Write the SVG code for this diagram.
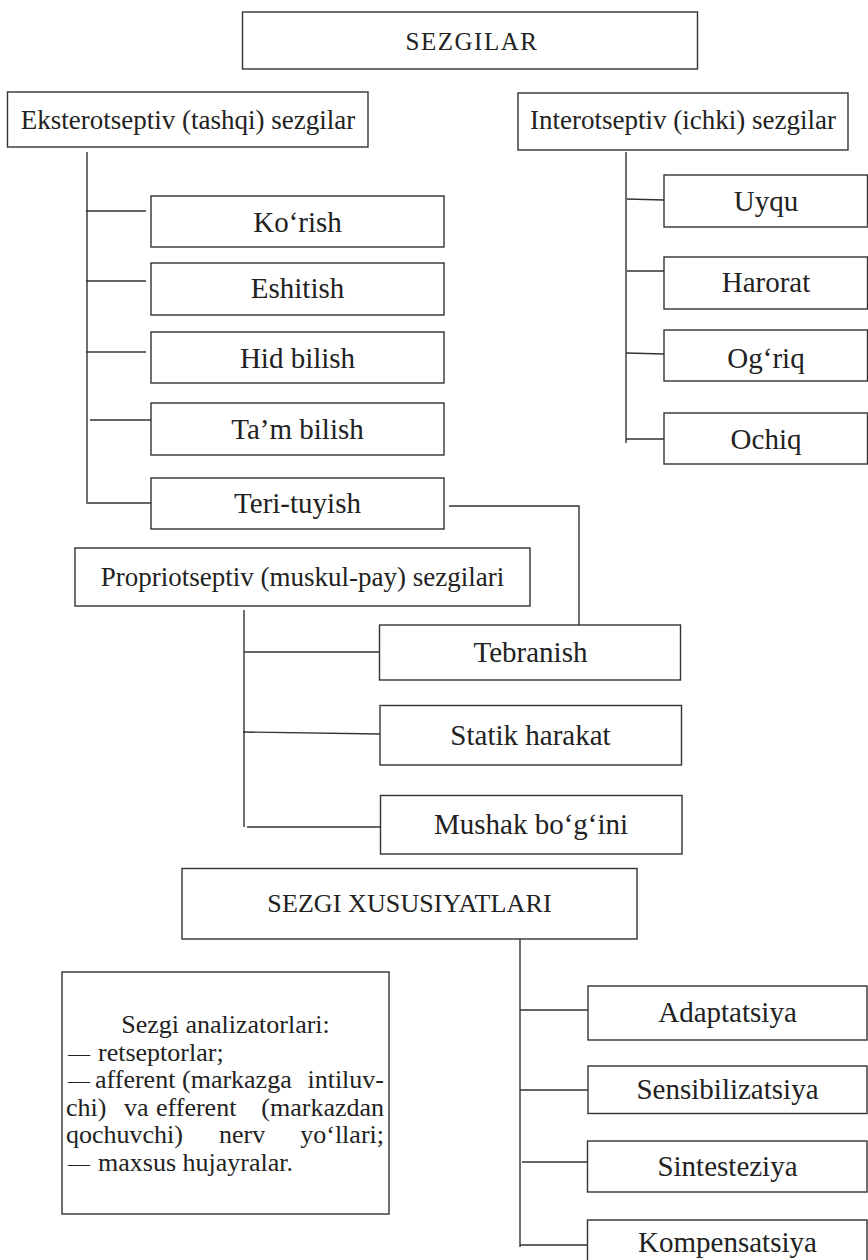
<svg xmlns="http://www.w3.org/2000/svg" width="868" height="1260" viewBox="0 0 868 1260">
<style>
.b{fill:#fff;stroke:#333;stroke-width:1.4}
.c{fill:none;stroke:#333;stroke-width:1.4}
.t{font-family:"Liberation Serif","Times New Roman",serif;fill:#222;text-anchor:middle}
.s29{font-size:29px}
.s27{font-size:27px}
.s26{font-size:26px}
.s25{font-size:25px}
.p{font-family:"Liberation Serif","Times New Roman",serif;fill:#222;font-size:26px}
.d{font-family:"Liberation Serif","Times New Roman",serif;fill:#222;font-size:22px}
.e{text-anchor:end}
</style>
<rect width="868" height="1260" fill="#fff"/>
<g id="connectors">
<path class="c" d="M87 152V504"/>
<path class="c" d="M86 211H146"/>
<path class="c" d="M86 281H146"/>
<path class="c" d="M86 352H146"/>
<path class="c" d="M90 420H151"/>
<path class="c" d="M88 503H151"/>
<path class="c" d="M626 152V443"/>
<path class="c" d="M627 199L664 200"/>
<path class="c" d="M627 271H665"/>
<path class="c" d="M626 353L664 354"/>
<path class="c" d="M626 439H664"/>
<path class="c" d="M449 506H579V625"/>
<path class="c" d="M244 610V827"/>
<path class="c" d="M244 652H380"/>
<path class="c" d="M243 732L380 734"/>
<path class="c" d="M247 827H380"/>
<path class="c" d="M520 939V1247"/>
<path class="c" d="M520 1010H590"/>
<path class="c" d="M520 1090H588"/>
<path class="c" d="M522 1162H588"/>
<path class="c" d="M520 1245H590"/>
</g>
<g id="sezgilar"><rect class="b" x="242.5" y="12" width="455" height="57"/><text class="t s25" x="472" y="50" letter-spacing="1.5">SEZGILAR</text></g>
<g id="ekstero"><rect class="b" x="7.5" y="92" width="360.5" height="55"/><text class="t s27" x="188" y="129">Eksterotseptiv (tashqi) sezgilar</text></g>
<g id="intero"><rect class="b" x="518" y="93" width="330" height="57"/><text class="t s27" x="683" y="129">Interotseptiv (ichki) sezgilar</text></g>
<g id="korish"><rect class="b" x="151" y="196" width="293" height="51"/><text class="t s29" x="297.5" y="232">Ko‘rish</text></g>
<g id="eshitish"><rect class="b" x="151" y="263" width="293" height="52"/><text class="t s29" x="297.5" y="298">Eshitish</text></g>
<g id="hid"><rect class="b" x="151" y="332" width="293" height="51"/><text class="t s29" x="297.5" y="368">Hid bilish</text></g>
<g id="tam"><rect class="b" x="151" y="403" width="293" height="52"/><text class="t s29" x="297.5" y="439">Ta’m bilish</text></g>
<g id="teri"><rect class="b" x="151" y="478" width="293" height="51"/><text class="t s29" x="297.5" y="513">Teri-tuyish</text></g>
<g id="uyqu"><rect class="b" x="664" y="175" width="203.5" height="52"/><text class="t s29" x="766" y="211">Uyqu</text></g>
<g id="harorat"><rect class="b" x="664" y="257" width="203.5" height="52"/><text class="t s29" x="766" y="292">Harorat</text></g>
<g id="ogriq"><rect class="b" x="664" y="330" width="203.5" height="51"/><text class="t s29" x="766" y="368">Og‘riq</text></g>
<g id="ochiq"><rect class="b" x="664" y="413" width="203.5" height="51"/><text class="t s29" x="766" y="449">Ochiq</text></g>
<g id="proprio"><rect class="b" x="75" y="548" width="455" height="58"/><text class="t s27" x="302.5" y="586">Propriotseptiv (muskul-pay) sezgilari</text></g>
<g id="tebranish"><rect class="b" x="379.5" y="625" width="301" height="55"/><text class="t s29" x="530.5" y="662">Tebranish</text></g>
<g id="statik"><rect class="b" x="380" y="705.5" width="301.5" height="59.5"/><text class="t s29" x="530.5" y="744.5">Statik harakat</text></g>
<g id="mushak"><rect class="b" x="380.5" y="795.5" width="301.5" height="58.5"/><text class="t s29" x="531" y="833.5">Mushak bo‘g‘ini</text></g>
<g id="xususiyat"><rect class="b" x="182" y="868.5" width="455" height="70.5"/><text class="t s26" x="409.5" y="912" letter-spacing="0.1">SEZGI XUSUSIYATLARI</text></g>
<g id="analizator"><rect class="b" x="62" y="972" width="327" height="242"/>
<text class="p" x="225.5" y="1033" text-anchor="middle">Sezgi analizatorlari:</text>
<text class="d" x="68" y="1060.6">—</text><text class="p" x="98" y="1060.6">retseptorlar;</text>
<text class="d" x="68" y="1088.2">—</text><text class="p" x="95" y="1088.2">afferent</text><text class="p" x="182" y="1088.2">(markazga</text><text class="p e" x="384" y="1088.2">intiluv-</text>
<text class="p" x="66" y="1115.8">chi)</text><text class="p" x="124" y="1115.8">va</text><text class="p" x="156" y="1115.8">efferent</text><text class="p e" x="384" y="1115.8">(markazdan</text>
<text class="p" x="66" y="1143.4">qochuvchi)</text><text class="p" x="219" y="1143.4">nerv</text><text class="p e" x="384" y="1143.4">yo‘llari;</text>
<text class="d" x="68" y="1171">—</text><text class="p" x="98" y="1171">maxsus hujayralar.</text>
</g>
<g id="adaptatsiya"><rect class="b" x="588" y="986" width="279" height="54"/><text class="t s29" x="727.5" y="1022">Adaptatsiya</text></g>
<g id="sensib"><rect class="b" x="588" y="1066" width="279" height="47.5"/><text class="t s29" x="727.5" y="1099">Sensibilizatsiya</text></g>
<g id="sintest"><rect class="b" x="587.5" y="1141" width="279.5" height="51"/><text class="t s29" x="727.5" y="1176">Sintesteziya</text></g>
<g id="kompens"><rect class="b" x="587.5" y="1220" width="279.5" height="60"/><text class="t s29" x="727.5" y="1252">Kompensatsiya</text></g>
</svg>
